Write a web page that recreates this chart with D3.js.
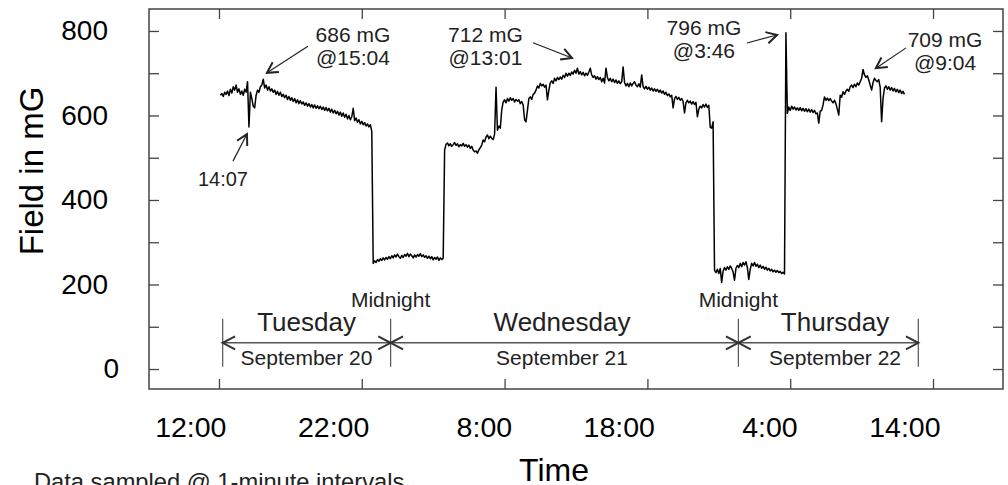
<!DOCTYPE html>
<html><head><meta charset="utf-8">
<script src="https://cdn.jsdelivr.net/npm/d3@7"></script>
<style>
html,body{margin:0;padding:0;background:#fff;}
svg{display:block;font-family:"Liberation Sans", Arial, sans-serif;}
</style></head><body>
<svg id="chart" width="1008" height="485"></svg>
<script>
// ---- data (hours since Tuesday 00:00, field in mG) ----
const sampleStartHour = 12.1;
const sampleStepHours = 0.1;
const tuesdayField = [
 648,652,645,655,650, 658,647,662,653,668, 660,672,655,663,650, 658,648,662,655,680,
 573, 655,640,622,618, 648,660,655,668,672, 686,
 665,672,660,668,658, 663,655,660,650,657, 648,655,645,650,642, 648,638,645,636,642,
 633,640,630,637,628, 635,627,632,624,630, 622,628,620,626,618, 625,617,623,616,622,
 614,620,612,619,611, 617,608,615,606,612, 604,610,601,608,598, 606,596,603,592,600,
 590,597,617,588,594, 584,590,580,586,578, 583,575,580,573,578, 562
];
const nightOneField = [
 250,256,252,259,255, 261,257,263,258,264, 260,266,261,268,263, 270,265,272,266,262,
 269,264,271,267,274, 266,272,268,263,270, 265,271,267,273,266, 270,264,268,262,267,
 261,266,258,264,260, 265,257,263,259,262
];
const wednesdayField = [
 518,532,
 535,528,533,527,531,536,529,533,526,531,
 528,534,527,531,525,530,522,527,518,514,
 516,511,519,524,530,542,538,549,554,545,
 551,546,543,556,667,565,575,570,613,632,
 637,630,640,634,642,636,640,632,638,634,
 637,628,633,625,590,585,612,640,644,638,
 650,653,660,670,665,676,670,674,667,672,
 637,660,677,682,676,688,682,690,685,691,
 686,695,690,700,693,700,695,703,698,707,
 700,712,698,704,696,702,694,700,695,703,
 712,696,690,694,686,692,685,690,680,688,
 677,712,690,682,688,680,686,678,684,676,
 682,675,680,715,678,670,676,668,677,670,
 676,680,672,668,675,667,696,668,663,669,
 662,667,660,665,658,663,657,662,655,660,
 653,658,650,655,647,651,644,648,618,640,
 645,638,643,636,640,633,606,630,636,630,
 634,627,633,626,631,597,615,622,618,626,
 620,627,619,624,572,570,585
];
const nightTwoField = [
 234,228,236,226,238, 205,232,240,234,242, 236,244,238,230,210, 238,245,240,250,242,
 252,246,254,240,212, 236,250,244,252,243, 248,240,246,238,243, 236,241,234,238,232,
 236,230,234,229,233, 228,231,226,229,225
];
const thursdayField = [
 796,605,620,
 612,622,615,620,613,618,612,619,611,617,
 610,616,609,615,608,614,607,612,604,606,
 582,610,612,625,644,636,641,635,640,634,
 630,636,628,615,601,648,643,656,650,658,
 662,657,668,672,666,674,668,677,672,680,
 688,709,696,690,694,684,672,660,678,688,
 683,680,685,667,585,640,665,670,662,668,
 660,666,658,664,656,662,654,660,652,657,
 650
];

const xTickHours = [12, 22, 32, 42, 52, 62];
const xTickLabels = ["12:00", "22:00", "8:00", "18:00", "4:00", "14:00"];
const yTickValues = [0, 100, 200, 300, 400, 500, 600, 700, 800];
const yLabelValues = [0, 200, 400, 600, 800];

const dayBoundaryHours = [12.26, 24.02, 48.37, 60.97];
const dayNames = ["Tuesday", "Wednesday", "Thursday"];
const dayDates = ["September 20", "September 21", "September 22"];
const dayLabelHours = [18.13, 36.02, 55.14];
const midnightHours = [24.02, 48.37];

const annotations = [
  {lines: ["686 mG", "@15:04"], text: [21.38, 774], tail: [18.23, 764], tip: [15.36, 701], size: 21},
  {lines: ["14:07"], text: [12.28, 433], tail: [12.98, 492], tip: [13.96, 556], size: 20},
  {lines: ["712 mG", "@13:01"], text: [30.66, 774], tail: [33.99, 772], tip: [36.72, 736], size: 21},
  {lines: ["796 mG", "@3:46"], text: [45.96, 790.5], tail: [48.97, 771.6], tip: [51.08, 790.5], size: 21},
  {lines: ["709 mG", "@9:04"], text: [62.84, 762], tail: [60.11, 760], tip: [58.0, 712], size: 21}
];

// ---- build series ----
const allField = [].concat(tuesdayField, nightOneField, wednesdayField, nightTwoField, thursdayField);
const series = allField.map((v, i) => ({t: sampleStartHour + i * sampleStepHours, v}));

// ---- layout ----
const svg = d3.select("#chart");
const L = 149, R = 1003, T = 9, B = 389;
const x = d3.scaleLinear().domain([7.1, 66.9]).range([L, R]);
const y = d3.scaleLinear().domain([-47.3, 852]).range([B, T]);
const frameColor = "#444";
const inkColor = "#222";

// axes (ticks inward)
const gB = svg.append("g").attr("transform", `translate(0,${B})`)
  .call(d3.axisBottom(x).tickValues(xTickHours).tickSizeInner(-10).tickSizeOuter(0).tickPadding(28)
    .tickFormat((d, i) => xTickLabels[i]));
gB.selectAll("text").attr("text-anchor", "end").attr("dx", 7)
  .style("font-size", "28.5px").attr("fill", "#000");
const gT = svg.append("g").attr("transform", `translate(0,${T})`)
  .call(d3.axisTop(x).tickValues(xTickHours).tickSizeInner(-10).tickSizeOuter(0).tickFormat(""));
const gL = svg.append("g").attr("transform", `translate(${L},0)`)
  .call(d3.axisLeft(y).tickValues(yTickValues).tickSizeInner(-10).tickSizeOuter(0).tickPadding(41)
    .tickFormat(d => yLabelValues.includes(d) ? d : ""));
gL.selectAll("text").style("font-size", "28px").attr("fill", "#000")
  .attr("dx", d => d === 0 ? 11 : 0);
const gR = svg.append("g").attr("transform", `translate(${R},0)`)
  .call(d3.axisRight(y).tickValues(yTickValues).tickSizeInner(-10).tickSizeOuter(0).tickFormat(""));
[gB, gT, gL, gR].forEach(g => {
  g.select(".domain").remove();
  g.selectAll("line").attr("stroke", frameColor).attr("stroke-width", 1.3);
});

// frame
svg.append("rect").attr("x", L).attr("y", T).attr("width", R - L).attr("height", B - T)
  .attr("fill", "none").attr("stroke", frameColor).attr("stroke-width", 1.5);

// trace
svg.append("path").datum(series)
  .attr("d", d3.line().x(d => x(d.t)).y(d => y(d.v)))
  .attr("fill", "none").attr("stroke", "#000").attr("stroke-width", 1.5)
  .attr("stroke-linejoin", "round");

// arrowhead helper
function arrowHead(g, tipPx, fromPx, len, spread, width, color) {
  const a = Math.atan2(fromPx[1] - tipPx[1], fromPx[0] - tipPx[0]);
  const p1 = [tipPx[0] + len * Math.cos(a + spread), tipPx[1] + len * Math.sin(a + spread)];
  const p2 = [tipPx[0] + len * Math.cos(a - spread), tipPx[1] + len * Math.sin(a - spread)];
  g.append("path").attr("d", `M${p1}L${tipPx}L${p2}`)
    .attr("fill", "none").attr("stroke", color).attr("stroke-width", width)
    .attr("stroke-linejoin", "miter");
}

// annotations
const gA = svg.append("g");
annotations.forEach(a => {
  const tx = x(a.text[0]), ty = y(a.text[1]);
  a.lines.forEach((s, i) => {
    gA.append("text").attr("x", tx).attr("y", ty + i * 23).attr("text-anchor", "middle")
      .style("font-size", a.size + "px").attr("fill", inkColor).text(s);
  });
  const tail = [x(a.tail[0]), y(a.tail[1])], tip = [x(a.tip[0]), y(a.tip[1])];
  gA.append("line").attr("x1", tail[0]).attr("y1", tail[1]).attr("x2", tip[0]).attr("y2", tip[1])
    .attr("stroke", inkColor).attr("stroke-width", 1.2);
  arrowHead(gA, tip, tail, 12, 0.5, 2, inkColor);
});

// day brackets
const gD = svg.append("g");
const bracketY = y(62);
const bx = dayBoundaryHours.map(h => x(h));
gD.append("line").attr("x1", bx[0]).attr("x2", bx[3]).attr("y1", bracketY).attr("y2", bracketY)
  .attr("stroke", "#555").attr("stroke-width", 1.5);
bx.forEach(px => {
  gD.append("line").attr("x1", px).attr("x2", px).attr("y1", bracketY - 24).attr("y2", bracketY + 24)
    .attr("stroke", "#555").attr("stroke-width", 1.2);
});
for (let i = 0; i < 3; i++) {
  arrowHead(gD, [bx[i], bracketY], [bx[i + 1], bracketY], 14, 0.48, 2, "#333");
  arrowHead(gD, [bx[i + 1], bracketY], [bx[i], bracketY], 14, 0.48, 2, "#333");
  const cx = x(dayLabelHours[i]);
  gD.append("text").attr("x", cx).attr("y", bracketY - 12).attr("text-anchor", "middle")
    .style("font-size", "26px").attr("fill", inkColor).text(dayNames[i]);
  gD.append("text").attr("x", cx).attr("y", bracketY + 22).attr("text-anchor", "middle")
    .style("font-size", "21px").attr("fill", inkColor).text(dayDates[i]);
}
midnightHours.forEach(h => {
  gD.append("text").attr("x", x(h)).attr("y", bracketY - 36).attr("text-anchor", "middle")
    .style("font-size", "21px").attr("fill", inkColor).text("Midnight");
});

// titles
svg.append("text").attr("transform", "translate(43,171) rotate(-90)").attr("text-anchor", "middle")
  .style("font-size", "33px").attr("fill", "#000").text("Field in mG");
svg.append("text").attr("x", 554).attr("y", 481).attr("text-anchor", "middle")
  .style("font-size", "32px").attr("fill", "#000").text("Time");
svg.append("text").attr("x", 34).attr("y", 490)
  .style("font-size", "23.7px").attr("fill", inkColor).text("Data sampled @ 1-minute intervals");
</script>
</body></html>
